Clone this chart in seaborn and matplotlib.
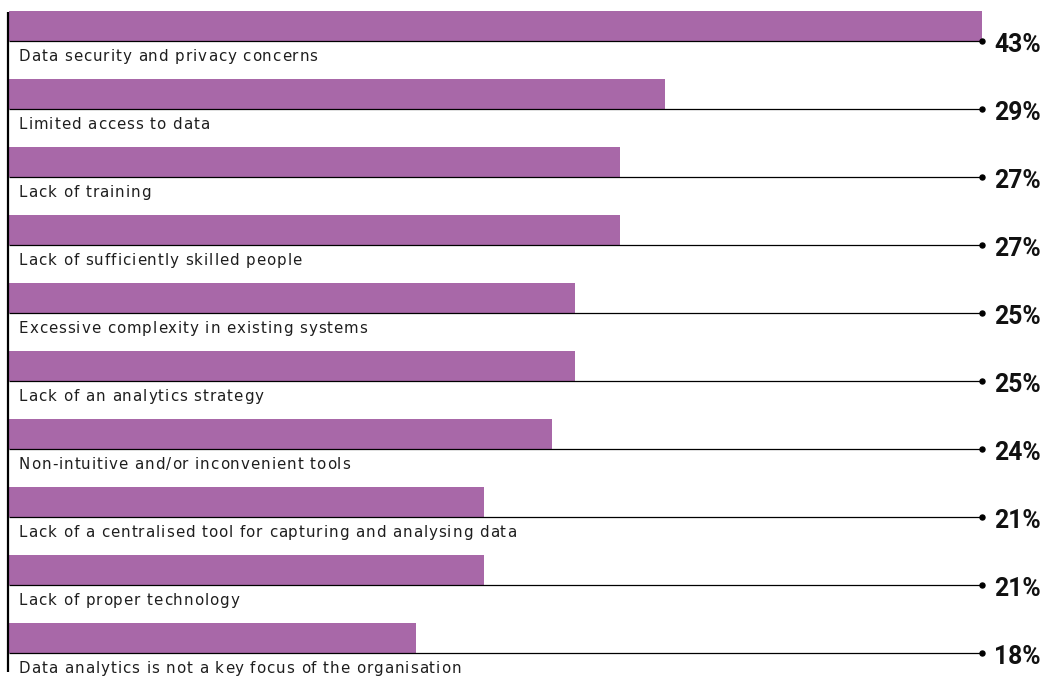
import matplotlib
matplotlib.use("Agg")
import matplotlib.pyplot as plt
import matplotlib.transforms as mtransforms
from matplotlib.font_manager import FontProperties
import seaborn as sns
import pandas as pd

categories = [
    "Data security and privacy concerns",
    "Limited access to data",
    "Lack of training",
    "Lack of sufficiently skilled people",
    "Excessive complexity in existing systems",
    "Lack of an analytics strategy",
    "Non-intuitive and/or inconvenient tools",
    "Lack of a centralised tool for capturing and analysing data",
    "Lack of proper technology",
    "Data analytics is not a key focus of the organisation",
]
values = [43, 29, 27, 27, 25, 25, 24, 21, 21, 18]

BAR_COLOR = "#A868A8"
W, H = 1046, 678

sns.set_theme(style="white")
plt.rcParams["font.family"] = ["DejaVu Sans"]

df = pd.DataFrame({"category": categories, "value": values})

fig = plt.figure(figsize=(W / 100, H / 100), dpi=100)
left_px, right_px = 9, 982
ax = fig.add_axes([left_px / W, 0, (right_px - left_px) / W, 1])

pitch = 68.0
first_center = 26.0
bar_h = 30.0 / pitch

sns.barplot(data=df, x="value", y="category", orient="h", color=BAR_COLOR,
            width=bar_h, saturation=1, ax=ax, linewidth=0)

xmax = max(values)
px_per_unit = (right_px - left_px) / xmax
ax.set_xlim(0, xmax)
ax.set_ylim((H - first_center) / pitch, -first_center / pitch)

label_fp = FontProperties(family="DejaVu Sans", size=10.8)
value_fp = FontProperties(family="Roboto", weight="bold", size=17.8)
renderer = fig.canvas.get_renderer()
ref_w = renderer.get_text_width_height_descent("|", label_fp, ismath=False)[0]


def spaced_text(x, y, s, tracking_px, **kw):
    """Draw a string with extra spacing between letters (in pixels)."""
    for k, ch in enumerate(s):
        if ch == " ":
            continue
        w = renderer.get_text_width_height_descent(s[:k] + "|", label_fp,
                                                   ismath=False)[0] - ref_w
        off = mtransforms.offset_copy(ax.transData, fig=fig,
                                      x=w + k * tracking_px, y=0, units="dots")
        ax.text(x, y, ch, transform=off, fontproperties=label_fp, **kw)


for i, (cat, v) in enumerate(zip(categories, values)):
    yb = i + bar_h / 2
    ax.plot([0, xmax], [yb, yb], color="black", lw=0.9, clip_on=False,
            solid_capstyle="butt")
    ax.plot([xmax], [yb], marker="o", color="black", markersize=3.6,
            clip_on=False)
    spaced_text((19 - left_px) / px_per_unit, yb + 8 / pitch, cat, 0.95,
                ha="left", va="top", color="#1e1e1e")
    ax.text(xmax + (994 - right_px) / px_per_unit, yb + 3.5 / pitch,
            f"{v}%", ha="left", va="center", fontproperties=value_fp,
            color="#111111", clip_on=False)

# left rule
ax.plot([-1 / px_per_unit] * 2, [-14 / pitch, (672 - first_center) / pitch],
        color="black", lw=1.6, clip_on=False, solid_capstyle="butt")

ax.set_xlabel("")
ax.set_ylabel("")
ax.set_xticks([])
ax.set_yticks([])
for s in ax.spines.values():
    s.set_visible(False)

fig.savefig("out.png", dpi=100, facecolor="white")
